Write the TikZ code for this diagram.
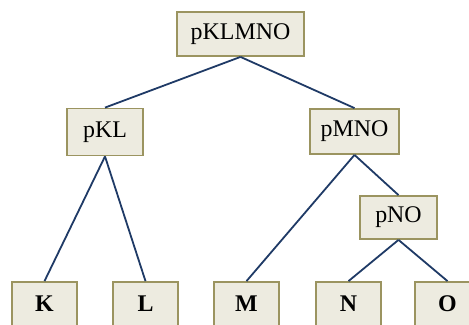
\documentclass[tikz,border=0pt]{standalone}
\usepackage{fontspec}
\setmainfont{Liberation Serif}
\definecolor{boxfill}{HTML}{EDEBE0}
\definecolor{boxline}{HTML}{9B9460}
\definecolor{edgecol}{HTML}{1F3A66}
\begin{document}
\begin{tikzpicture}[x=1bp,y=-1bp,
  box/.style={draw=boxline,fill=boxfill,line width=1.8bp,inner sep=0pt,
    font=\fontsize{24}{28}\selectfont},
  leaf/.style={box,minimum width=65bp,minimum height=44bp,font=\fontsize{24}{28}\selectfont\bfseries},
  edge/.style={draw=edgecol,line width=1.8bp}]
\clip (0,0) rectangle (469,324);
\useasboundingbox (0,0) rectangle (469,324);
\node[box,minimum width=127bp,minimum height=44bp] (root) at (240.5,34) {pKLMNO};
\node[box,minimum width=76bp,minimum height=47bp] (kl) at (105,132) {pKL};
\node[box,minimum width=89bp,minimum height=45bp] (mno) at (354.5,131.5) {pMNO};
\node[box,minimum width=77bp,minimum height=43bp] (no) at (398.5,217.5) {pNO};
\node[leaf] (k) at (44.5,304) {K};
\node[leaf] (l) at (145.5,304) {L};
\node[leaf] (m) at (246.5,304) {M};
\node[leaf] (n) at (348.5,304) {N};
\node[leaf] (o) at (447.5,304) {O};
\draw[edge] (root.south) -- (kl.north);
\draw[edge] (root.south) -- (mno.north);
\draw[edge] (kl.south) -- (k.north);
\draw[edge] (kl.south) -- (l.north);
\draw[edge] (mno.south) -- (m.north);
\draw[edge] (mno.south) -- (no.north);
\draw[edge] (no.south) -- (n.north);
\draw[edge] (no.south) -- (o.north);
\end{tikzpicture}
\end{document}
